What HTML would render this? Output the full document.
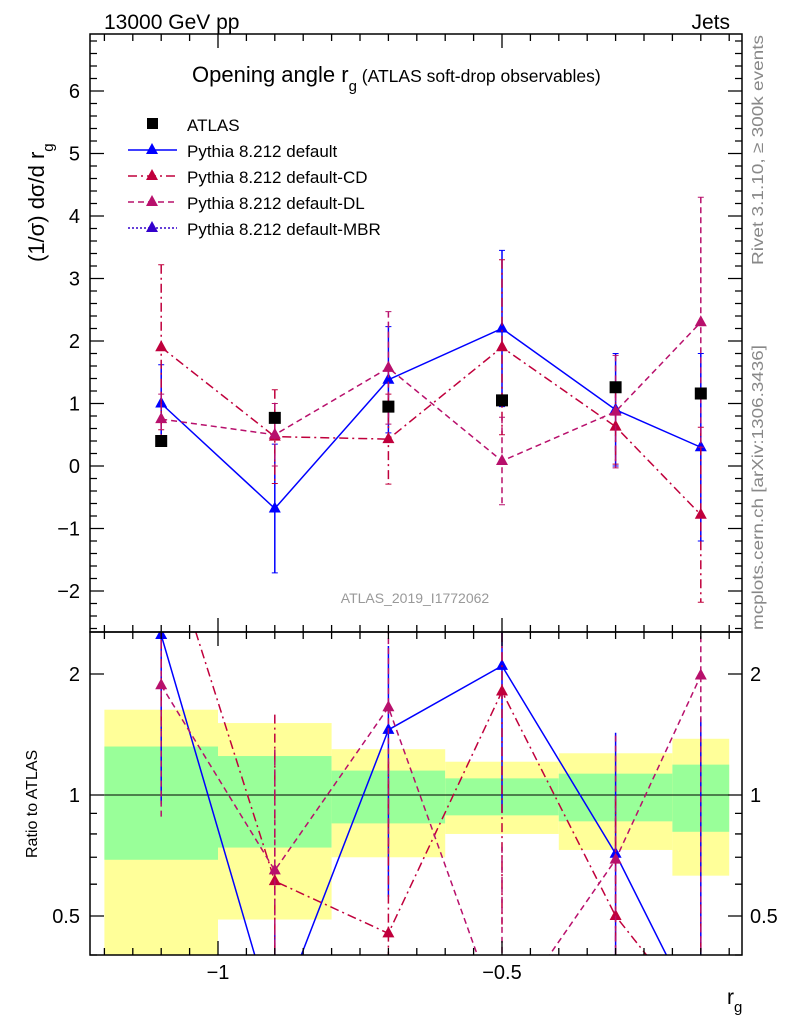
<!DOCTYPE html>
<html><head><meta charset="utf-8"><style>
body{margin:0;background:#fff;width:786px;height:1024px;overflow:hidden}
svg{display:block;font-family:"Liberation Sans",Arial,sans-serif}
</style></head><body>
<svg id="c" width="786" height="1024"></svg>
<script>
const xCenters=[-1.1,-0.9,-0.7,-0.5,-0.3,-0.15];
const binEdges=[-1.2,-1.0,-0.8,-0.6,-0.4,-0.2,-0.1];
const atlasVals=[0.4,0.77,0.95,1.05,1.26,1.16];
const defVals=[1.0,-0.68,1.38,2.2,0.9,0.3];
const defErrs=[0.62,1.03,0.85,1.25,0.9,1.5];
const cdVals=[1.9,0.47,0.43,1.9,0.63,-0.78];
const cdErrs=[1.32,0.75,0.72,1.4,0.6,1.4];
const dlVals=[0.75,0.5,1.57,0.08,0.87,2.3];
const dlErrs=[0.4,0.5,0.9,0.7,0.9,2.0];
const yellowLo=[0.3,0.49,0.70,0.80,0.73,0.63];
const yellowHi=[1.63,1.51,1.30,1.21,1.27,1.38];
const greenLo=[0.69,0.74,0.85,0.89,0.86,0.81];
const greenHi=[1.32,1.25,1.15,1.10,1.13,1.19];
const mainTicks=[-2,-1,0,1,2,3,4,5,6];
const ratioTicks=[0.5,1,2];
const xTicks=[-1,-0.5];

const S="http://www.w3.org/2000/svg",svg=document.getElementById('c');
const L=90,R=742,T=34,M=632,B=955;
const X=v=>218+(v+1)*568;
const Y=v=>466-v*62.5;
const RY=v=>795-402*Math.log10(Math.max(v,0.27));
function el(t,a,p){const e=document.createElementNS(S,t);for(const k in a)e.setAttribute(k,a[k]);(p||svg).appendChild(e);return e;}
function txt(s,a,p){const e=el('text',a,p);e.textContent=s;return e;}
const defs=el('defs',{});
const c1=el('clipPath',{id:'cm'},defs);el('rect',{x:L,y:T,width:R-L,height:M-T},c1);
const c2=el('clipPath',{id:'cr'},defs);el('rect',{x:L,y:M,width:R-L,height:B-M},c2);
const gm=el('g',{'clip-path':'url(#cm)'});
const gr=el('g',{'clip-path':'url(#cr)'});

for(let i=0;i<6;i++){
 const x0=X(binEdges[i]),x1=X(binEdges[i+1]);
 const yb=el('rect',{x:x0,y:RY(yellowHi[i]),width:x1-x0,height:RY(yellowLo[i])-RY(yellowHi[i]),fill:'#ffff99'},gr);
 
 
 const gb=el('rect',{x:x0,y:RY(greenHi[i]),width:x1-x0,height:RY(greenLo[i])-RY(greenHi[i]),fill:'#99ff99'},gr);
 
 
}
el('line',{x1:L,x2:R,y1:RY(1),y2:RY(1),stroke:'#000','stroke-width':1},gr);

function tri(x,y,col,p,name){const t=el('path',{d:`M${x},${y-7}L${x+6},${y+4}L${x-6},${y+4}Z`,fill:col},p);
 }
const series=[
 {v:defVals,e:defErrs,col:'#0000ff',dash:'',name:'default'},
 {v:cdVals,e:cdErrs,col:'#c0003c',dash:'9 4 2 4',name:'cd'},
 {v:dlVals,e:dlErrs,col:'#b8106c',dash:'6 4',name:'dl'}];
for(const s of series){
 let pts=xCenters.map((x,i)=>X(x)+','+Y(s.v[i])).join(' ');
 el('polyline',{points:pts,fill:'none',stroke:s.col,'stroke-width':1.5,'stroke-dasharray':s.dash},gm);
 xCenters.forEach((x,i)=>{
  el('line',{x1:X(x),x2:X(x),y1:Y(s.v[i]+s.e[i]),y2:Y(s.v[i]-s.e[i]),stroke:s.col,'stroke-width':1.5,'stroke-dasharray':s.dash},gm);
  el('line',{x1:X(x)-3,x2:X(x)+3,y1:Y(s.v[i]+s.e[i]),y2:Y(s.v[i]+s.e[i]),stroke:s.col},gm);
  el('line',{x1:X(x)-3,x2:X(x)+3,y1:Y(s.v[i]-s.e[i]),y2:Y(s.v[i]-s.e[i]),stroke:s.col},gm);
  tri(X(x),Y(s.v[i]),s.col,gm,'point-'+s.name);
 });
 const r=s.v.map((v,i)=>v/atlasVals[i]);
 pts=xCenters.map((x,i)=>X(x)+','+RY(r[i])).join(' ');
 el('polyline',{points:pts,fill:'none',stroke:s.col,'stroke-width':1.5,'stroke-dasharray':s.dash},gr);
 xCenters.forEach((x,i)=>{
  const hi=(s.v[i]+s.e[i])/atlasVals[i],lo=(s.v[i]-s.e[i])/atlasVals[i];
  el('line',{x1:X(x),x2:X(x),y1:RY(hi),y2:RY(lo),stroke:s.col,'stroke-width':1.5,'stroke-dasharray':s.dash},gr);
  tri(X(x),RY(r[i]),s.col,gr,'ratio-point-'+s.name);
 });
}
xCenters.forEach((x,i)=>{
 const q=el('rect',{x:X(x)-6,y:Y(atlasVals[i])-6,width:12,height:12,fill:'#000'},gm);
 
 
});

el('rect',{x:L,y:T,width:R-L,height:M-T,fill:'none',stroke:'#000','stroke-width':1.5,});
el('rect',{x:L,y:M,width:R-L,height:B-M,fill:'none',stroke:'#000','stroke-width':1.5,});
let tk='';
for(let v=-2.6;v<=6.9;v+=0.2){const y=Y(v);if(y<T||y>M)continue;const maj=Math.abs(v-Math.round(v))<1e-6;const l=maj?14:7;tk+=`M${L},${y}h${l}M${R},${y}h${-l}`;}
for(let v=-1.2;v<=-0.05;v+=0.05){const x=X(v);if(x<L||x>R)continue;const maj=Math.abs(v*2-Math.round(v*2))<1e-6;const l=maj?14:7;tk+=`M${x},${T}v${l}M${x},${M}v${-l}M${x},${M}v${l}M${x},${B}v${-l}`;}
for(const v of [0.4,0.5,0.6,0.7,0.8,0.9,1,2]){const y=RY(v);const maj=ratioTicks.includes(v);const l=maj?14:7;tk+=`M${L},${y}h${l}M${R},${y}h${-l}`;}
el('path',{d:tk,stroke:'#000','stroke-width':1.3,fill:'none'});
mainTicks.forEach(v=>txt(v<0?'\u2212'+(-v):String(v),{x:80,y:Y(v)+7,'font-size':20,'text-anchor':'end'}));
ratioTicks.forEach(v=>{txt(String(v),{x:80,y:RY(v)+7,'font-size':20,'text-anchor':'end'});txt(String(v),{x:750,y:RY(v)+7,'font-size':20});});
xTicks.forEach(v=>txt('\u2212'+(-v),{x:X(v),y:979,'font-size':20,'text-anchor':'middle'}));

txt('13000 GeV pp',{x:104,y:29,'font-size':21,});
txt('Jets',{x:730,y:29,'font-size':21,'text-anchor':'end',});
const tt=txt('',{x:192,y:82,'font-size':22,});
tt.innerHTML='Opening angle r<tspan font-size="15" dy="9">g</tspan><tspan font-size="17.5" dy="-9"> (ATLAS soft-drop observables)</tspan>';
const yl=txt('',{transform:'translate(44,262) rotate(-90)','font-size':22,});
yl.innerHTML='(1/σ) dσ/d r<tspan font-size="15" dy="9">g</tspan>';
txt('Ratio to ATLAS',{transform:'translate(37,858) rotate(-90)','font-size':16,});
const xl=txt('',{x:727,y:1004,'font-size':21,});
xl.innerHTML='r<tspan font-size="15" dy="8">g</tspan>';
txt('Rivet 3.1.10, \u2265 300k events',{transform:'translate(763,265) rotate(-90)','font-size':16,fill:'#888',textLength:230,lengthAdjust:'spacingAndGlyphs',});
txt('mcplots.cern.ch [arXiv:1306.3436]',{transform:'translate(763,630) rotate(-90)','font-size':16,fill:'#888',textLength:285,lengthAdjust:'spacingAndGlyphs',});
txt('ATLAS_2019_I1772062',{x:415,y:603,'font-size':14,fill:'#999','text-anchor':'middle',});

const lg=el('g',{});
const ents=[['ATLAS','#000',null],['Pythia 8.212 default','#0000ff',''],['Pythia 8.212 default-CD','#c0003c','9 4 2 4'],['Pythia 8.212 default-DL','#b8106c','6 4'],['Pythia 8.212 default-MBR','#3300cc','2 2']];
ents.forEach((e,i)=>{const y=124+i*26;const g=el('g',{},lg);
 
 
 if(e[2]===null){el('rect',{x:147,y:y-6,width:11,height:11,fill:'#000'},g);}
 else{el('line',{x1:128,x2:177,y1:y,y2:y,stroke:e[1],'stroke-width':1.5,'stroke-dasharray':e[2]},g);el('path',{d:`M152,${y-7}L158,${y+4}L146,${y+4}Z`,fill:e[1]},g);}
 txt(e[0],{x:187,y:y+7,'font-size':17},g);
});
</script>
</body></html>
